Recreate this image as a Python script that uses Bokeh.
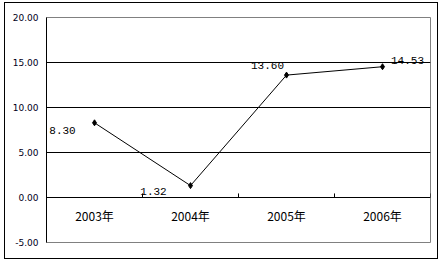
from bokeh.plotting import figure
from bokeh.models import Range1d, NumeralTickFormatter, FixedTicker, ColumnDataSource
from bokeh.core.properties import value
from bokeh.embed import file_html
from bokeh.resources import INLINE

categories = ["2003年", "2004年", "2005年", "2006年"]
values = [8.30, 1.32, 13.60, 14.53]
y_ticks = [-5, 0, 5, 10, 15, 20]
grid_values = [0, 5, 10, 15]

x = [i + 0.5 for i in range(len(categories))]
labels = [f"{v:.2f}" for v in values]
# label placement (screen pixel offsets)
label_dx = [-32, -37, -19, 25]
label_dy = [8, 6, -10, -6]

src = ColumnDataSource(dict(x=x, y=values, lab=labels, dx=label_dx, dy=label_dy))
cat_src = ColumnDataSource(dict(x=x, y=[0] * len(x), lab=categories))
bounds = list(range(1, len(categories) + 1))

p = figure(frame_width=384, frame_height=225,
           x_range=Range1d(0, len(categories)), y_range=Range1d(-5, 20),
           output_backend="svg", toolbar_location=None,
           min_border_left=41, min_border_right=7, min_border_top=14, min_border_bottom=16)
p.styles = {"border": "1px solid black"}
p.margin = (2, 0, 0, 4)
p.outline_line_color = "#808080"
p.background_fill_color = "white"
p.border_fill_color = "white"

p.xaxis.visible = False
p.xgrid.visible = False
p.ygrid.ticker = FixedTicker(ticks=grid_values)
p.ygrid.grid_line_color = "black"
p.ygrid.grid_line_width = 1

ax = p.yaxis[0]
ax.ticker = FixedTicker(ticks=y_ticks)
ax.formatter = NumeralTickFormatter(format="0.00")
ax.axis_line_color = "black"
ax.major_tick_in = 0
ax.major_tick_out = 0
ax.minor_tick_line_color = None
ax.major_label_standoff = 8
ax.major_label_text_font = "DejaVu Sans"
ax.major_label_text_font_size = "9px"
ax.major_label_text_color = "#000020"

# category tick marks on zero line
p.segment(x0=bounds, y0=[0] * len(bounds), x1=bounds, y1=[0.45] * len(bounds), line_color="black", line_width=1)

p.line("x", "y", source=src, line_color="black", line_width=1)
p.scatter("x", "y", source=src, marker="diamond", size=6, color="black")
p.text("x", "y", text="lab", source=src, x_offset="dx", y_offset="dy",
       text_font=value("Liberation Mono"), text_font_size="11px",
       text_align="center", text_baseline="middle", text_color="black")
p.text("x", "y", text="lab", source=cat_src, y_offset=18,
       text_font=value("Noto Sans CJK SC"), text_font_size="12px",
       text_align="center", text_baseline="middle", text_color="black")

open("out.html", "w").write(file_html(p, INLINE))
